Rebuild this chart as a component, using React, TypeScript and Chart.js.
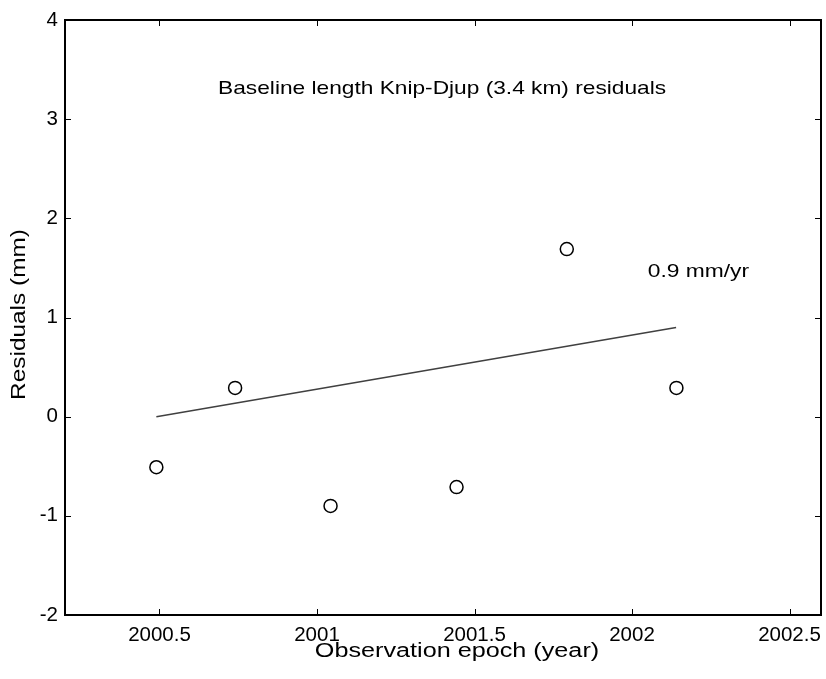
import React, { useEffect, useRef } from "react";
import { Chart, registerables } from "chart.js";

Chart.register(...registerables);

const epochs = [2000.49, 2000.74, 2001.043, 2001.443, 2001.793, 2002.141];
const residuals = [-0.51, 0.29, -0.9, -0.71, 1.69, 0.29];
const trendEpochs = [2000.49, 2002.14];
const trendValues = [0.0, 0.9];
const xTicks = [2000.5, 2001, 2001.5, 2002, 2002.5];
const yTicks = [-2, -1, 0, 1, 2, 3, 4];
const titleText = "Baseline length Knip-Djup (3.4 km) residuals";
const titlePos = { x: 2000.686, y: 3.31 };
const rateText = "0.9 mm/yr";
const ratePos = { x: 2002.05, y: 1.46 };
const xTitle = "Observation epoch (year)";
const yTitle = "Residuals (mm)";

const FONT = "'Liberation Sans', Arial, sans-serif";

function wideText(ctx: any, text: string, x: number, y: number, stretch: number, align: string) {
  ctx.save();
  ctx.translate(x, y);
  ctx.scale(stretch, 1);
  ctx.textAlign = align;
  ctx.fillText(text, 0, 0);
  ctx.restore();
}

const framePlugin = {
  id: "frame",
  afterDraw(chart: any) {
    const { ctx, chartArea } = chart;
    const xs = chart.scales.x;
    const ys = chart.scales.y;
    const { left, right, top, bottom } = chartArea;
    ctx.save();
    ctx.strokeStyle = "#000";
    ctx.lineWidth = 1;
    const tl = 6;
    ctx.beginPath();
    for (const v of xTicks) {
      const p = Math.round(xs.getPixelForValue(v)) + 0.5;
      ctx.moveTo(p, bottom);
      ctx.lineTo(p, bottom - tl);
      ctx.moveTo(p, top);
      ctx.lineTo(p, top + tl);
    }
    for (const v of yTicks) {
      const p = Math.round(ys.getPixelForValue(v)) + 0.5;
      ctx.moveTo(left, p);
      ctx.lineTo(left + tl, p);
      ctx.moveTo(right, p);
      ctx.lineTo(right - tl, p);
    }
    ctx.stroke();
    ctx.lineWidth = 2;
    ctx.strokeRect(left, top, right - left, bottom - top);

    ctx.fillStyle = "#000";
    ctx.textBaseline = "middle";
    ctx.font = `19px ${FONT}`;
    wideText(ctx, titleText, xs.getPixelForValue(titlePos.x), ys.getPixelForValue(titlePos.y), 1.195, "left");
    wideText(ctx, rateText, xs.getPixelForValue(ratePos.x), ys.getPixelForValue(ratePos.y), 1.2, "left");

    ctx.font = `20px ${FONT}`;
    wideText(ctx, xTitle, (left + right) / 2 + 14, bottom + 36, 1.26, "center");

    ctx.translate(19, (top + bottom) / 2 - 3);
    ctx.rotate(-Math.PI / 2);
    wideText(ctx, yTitle, 0, 0, 1.22, "center");
    ctx.restore();
  },
};

export default function App() {
  const ref = useRef<HTMLCanvasElement>(null);
  useEffect(() => {
    document.body.style.margin = "0";
    const canvas = ref.current!;
    const chart = new Chart(canvas, {
      type: "scatter",
      data: {
        datasets: [
          {
            type: "line",
            data: trendEpochs.map((x, i) => ({ x, y: trendValues[i] })),
            borderColor: "#404040",
            borderWidth: 1.5,
            pointRadius: 0,
            fill: false,
          } as any,
          {
            data: epochs.map((x, i) => ({ x, y: residuals[i] })),
            pointRadius: 6.5,
            pointBorderWidth: 1.5,
            pointBorderColor: "#000",
            pointBackgroundColor: "rgba(255,255,255,0)",
            showLine: false,
          },
        ],
      },
      options: {
        responsive: false,
        animation: false,
        layout: { autoPadding: false, padding: { top: 20, right: 5, left: 0, bottom: 0 } },
        plugins: { legend: { display: false }, tooltip: { enabled: false } },
        scales: {
          x: {
            type: "linear",
            min: 2000.2,
            max: 2002.6,
            afterBuildTicks: (s: any) => {
              s.ticks = xTicks.map((v) => ({ value: v }));
            },
            afterFit: (s: any) => {
              s.height = 64;
              s.paddingLeft = 0;
              s.paddingRight = 0;
            },
            grid: { display: false, drawTicks: false },
            border: { display: false },
            ticks: {
              color: "#000",
              font: { family: FONT, size: 20.5 },
              padding: 8,
              maxRotation: 0,
              autoSkip: false,
              callback: (v: any) => String(v),
            },
          },
          y: {
            type: "linear",
            min: -2,
            max: 4,
            afterBuildTicks: (s: any) => {
              s.ticks = yTicks.map((v) => ({ value: v }));
            },
            afterFit: (s: any) => {
              s.width = 65;
              s.paddingTop = 0;
              s.paddingBottom = 0;
            },
            grid: { display: false, drawTicks: false },
            border: { display: false },
            ticks: {
              color: "#000",
              font: { family: FONT, size: 20.5 },
              padding: 7,
              autoSkip: false,
              callback: (v: any) => String(v),
            },
          },
        },
      },
      plugins: [framePlugin],
    });
    return () => chart.destroy();
  }, []);
  return <canvas ref={ref} width={826} height={679} style={{ display: "block" }} />;
}
